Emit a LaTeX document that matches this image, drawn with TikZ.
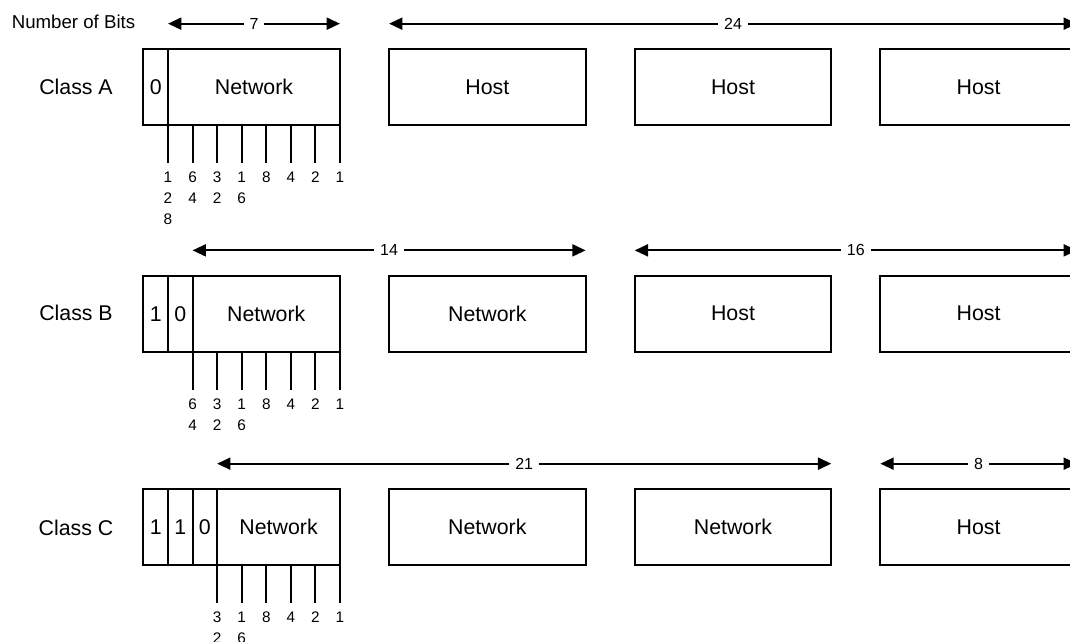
\documentclass[tikz,border=0pt]{standalone}
\usepackage{fontspec}
\setmainfont{Liberation Sans}
\usetikzlibrary{arrows.meta}
\usetikzlibrary{positioning}
\tikzset{
	field/.style={rectangle,draw,line width=1.5pt,inner sep=0pt,outer sep=0pt,minimum height=57pt,font=\fontsize{16}{19}\selectfont},
	bit/.style={field,minimum width=18.43pt},
	octet/.style={field,minimum width=147.44pt},
	classname/.style={font=\fontsize{16}{19}\selectfont},
	bits/.style={{Triangle[length=10pt,width=9pt]}-{Triangle[length=10pt,width=9pt]},line width=1.5pt},
	count/.style={fill=white,inner sep=4.5pt,font=\fontsize{12}{14}\selectfont},
	weight/.style={align=center,inner sep=0pt,font=\fontsize{11.5}{15.75}\selectfont},
	tick/.style={line width=1.5pt}
}

\begin{document}
\begin{tikzpicture}[x=0.75pt,y=-0.75pt]
	\useasboundingbox (0,0) rectangle (1070,642);
	\clip (0,0) rectangle (1070,642);
	
	\node[font=\fontsize{14}{17}\selectfont] (title) at (73.5,22) {Number of Bits};
	
	% Class A
	\node[classname] (classA) at (76,87) {Class A};
	\node[bit,anchor=north west] (a0) at (143.4,49) {0};
	\node[field,minimum width=129.01pt,right=0pt of a0] (anet) {Network};
	\node[octet,right=36.8pt of anet] (ahost1) {Host};
	\node[octet,right=36.8pt of ahost1] (ahost2) {Host};
	\node[octet,right=36.8pt of ahost2] (ahost3) {Host};
	
	\coordinate[above=19pt of a0.north east] (a7l);
	\coordinate[above=19pt of anet.north east] (a7r);
	\draw[bits] (a7l) -- node[count] {7} (a7r);
	\coordinate[above=19pt of ahost1.north west] (a24l);
	\coordinate[above=19pt of ahost3.north east] (a24r);
	\draw[bits] (a24l) -- node[count] {24} (a24r);
	
	\foreach \k/\w in {0/{1\\2\\8},1/{6\\4},2/{3\\2},3/{1\\6},4/8,5/4,6/2,7/1} {
		\coordinate[xshift=\k*18.43pt] (ta\k) at (a0.south east);
		\coordinate[below=28.5pt of ta\k] (tb\k);
		\draw[tick] (ta\k) -- (tb\k);
		\node[weight,below=6.5pt of tb\k] (wa\k) {\w};
	}
	
	% Class B
	\node[classname] (classB) at (76,313) {Class B};
	\node[bit,anchor=north west] (b1) at (143.4,275.7) {1};
	\node[bit,right=0pt of b1] (b0) {0};
	\node[field,minimum width=110.58pt,right=0pt of b0] (bnet) {Network};
	\node[octet,right=36.8pt of bnet] (bnet2) {Network};
	\node[octet,right=36.8pt of bnet2] (bhost1) {Host};
	\node[octet,right=36.8pt of bhost1] (bhost2) {Host};
	
	\coordinate[above=19pt of b0.north east] (b14l);
	\coordinate[above=19pt of bnet2.north east] (b14r);
	\draw[bits] (b14l) -- node[count] {14} (b14r);
	\coordinate[above=19pt of bhost1.north west] (b16l);
	\coordinate[above=19pt of bhost2.north east] (b16r);
	\draw[bits] (b16l) -- node[count] {16} (b16r);
	
	\foreach \k/\w in {0/{6\\4},1/{3\\2},2/{1\\6},3/8,4/4,5/2,6/1} {
		\coordinate[xshift=\k*18.43pt] (tc\k) at (b0.south east);
		\coordinate[below=28.5pt of tc\k] (td\k);
		\draw[tick] (tc\k) -- (td\k);
		\node[weight,below=6.5pt of td\k] (wb\k) {\w};
	}
	
	% Class C
	\node[classname] (classC) at (76,527.5) {Class C};
	\node[bit,anchor=north west] (c1) at (143.4,489) {1};
	\node[bit,right=0pt of c1] (c2) {1};
	\node[bit,right=0pt of c2] (c0) {0};
	\node[field,minimum width=92.15pt,right=0pt of c0] (cnet) {Network};
	\node[octet,right=36.8pt of cnet] (cnet2) {Network};
	\node[octet,right=36.8pt of cnet2] (cnet3) {Network};
	\node[octet,right=36.8pt of cnet3] (chost) {Host};
	
	\coordinate[above=19pt of c0.north east] (c21l);
	\coordinate[above=19pt of cnet3.north east] (c21r);
	\draw[bits] (c21l) -- node[count] {21} (c21r);
	\coordinate[above=19pt of chost.north west] (c8l);
	\coordinate[above=19pt of chost.north east] (c8r);
	\draw[bits] (c8l) -- node[count] {8} (c8r);
	
	\foreach \k/\w in {0/{3\\2},1/{1\\6},2/8,3/4,4/2,5/1} {
		\coordinate[xshift=\k*18.43pt] (te\k) at (c0.south east);
		\coordinate[below=28.5pt of te\k] (tf\k);
		\draw[tick] (te\k) -- (tf\k);
		\node[weight,below=6.5pt of tf\k] (wc\k) {\w};
	}
\end{tikzpicture}
\end{document}
